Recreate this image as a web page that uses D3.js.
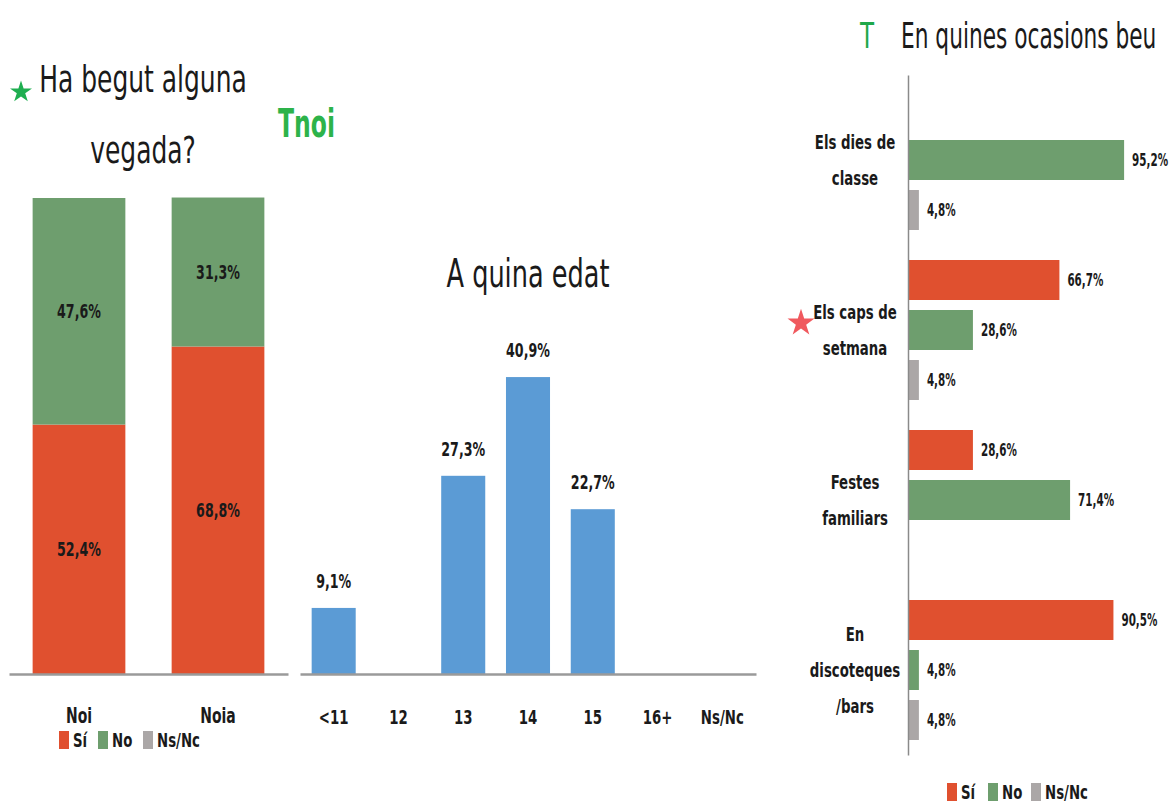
<!DOCTYPE html>
<html>
<head>
<meta charset="utf-8">
<script src="https://cdn.jsdelivr.net/npm/d3@7"></script>
<style>
  html, body { margin: 0; padding: 0; background: #fff; }
  svg { display: block; }
  text { font-family: 'Liberation Sans Narrow', 'Arial Narrow', 'DejaVu Sans Condensed', sans-serif; fill: #1a1a1a; }
</style>
</head>
<body>
<script>
// ---------------- DATA ----------------
const seriesNames = ["Sí", "No", "Ns/Nc"];
const seriesColors = ["#E0502F", "#6E9E6E", "#ABA7A7"];

const genderCats = ["Noi", "Noia"];
const genderSi = [52.4, 68.8];
const genderNo = [47.6, 31.3];

const ageCats = ["<11", "12", "13", "14", "15", "16+", "Ns/Nc"];
const ageValues = [9.1, 0, 27.3, 40.9, 22.7, 0, 0];

const occasionCats = ["Els dies de classe", "Els caps de setmana", "Festes familiars", "En discoteques /bars"];
const occasionLines = [["Els dies de", "classe"], ["Els caps de", "setmana"], ["Festes", "familiars"], ["En", "discoteques", "/bars"]];
const occSi = [0, 66.7, 28.6, 90.5];
const occNo = [95.2, 28.6, 71.4, 4.8];
const occNsNc = [4.8, 4.8, 0, 4.8];

const fmt = v => v.toFixed(1).replace(".", ",") + "%";

// ---------------- SETUP ----------------
const W = 1173, H = 803;
const svg = d3.select("body").append("svg").attr("width", W).attr("height", H);

// horizontal condensing of text (the reference uses a narrow font)
function squeeze(sel, k) {
  sel.each(function () {
    const t = d3.select(this);
    const x = +t.attr("x") || 0;
    const y = +t.attr("y") || 0;
    t.attr("x", 0).attr("y", 0)
     .attr("transform", `translate(${x},${y}) scale(${k},1)`);
  });
}
const K_SMALL = 0.74, K_TITLE = 0.73;

// ================= LEFT: stacked bars =================
const xG = d3.scaleBand().domain(genderCats).range([9, 288]).paddingInner(0.333).paddingOuter(0.17);
const yG = d3.scaleLinear().domain([0, 100]).range([674, 198]);

const gLeft = svg.append("g");
const stackRows = genderCats.map((c, i) => ({ cat: c, "Sí": genderSi[i], "No": genderNo[i] }));
const stacked = d3.stack().keys(["Sí", "No"])(stackRows);

stacked.forEach((layer, li) => {
  gLeft.selectAll(null).data(layer).join("rect")
    .attr("x", d => xG(d.data.cat))
    .attr("width", xG.bandwidth())
    .attr("y", d => yG(d[1]))
    .attr("height", d => yG(d[0]) - yG(d[1]))
    .attr("fill", seriesColors[li]);
  gLeft.selectAll(null).data(layer).join("text").attr("class", "sm")
    .attr("x", d => xG(d.data.cat) + xG.bandwidth() / 2)
    .attr("y", d => (yG(d[0]) + yG(d[1])) / 2)
    .attr("dy", "0.36em")
    .attr("text-anchor", "middle")
    .style("font-size", "19px").style("font-weight", "bold")
    .text(d => fmt(d[1] - d[0]));
});

const axLeft = gLeft.append("g").attr("transform", "translate(0,674)")
  .call(d3.axisBottom(xG).tickSizeInner(0).tickSizeOuter(0).tickPadding(34));
axLeft.select(".domain").attr("stroke", "#9a9a9a").attr("stroke-width", 2.5);
axLeft.selectAll(".tick text").attr("class", "sm").style("font-size", "21px").style("font-weight", "bold")
  .attr("fill", "#1a1a1a").style("font-family", null);

// legend
function legend(g, x0, y0, gaps) {
  let x = x0;
  seriesNames.forEach((s, i) => {
    g.append("rect").attr("x", x).attr("y", y0 - 9).attr("width", 10).attr("height", 18).attr("fill", seriesColors[i]);
    g.append("text").attr("class", "sm").attr("x", x + 14).attr("y", y0).attr("dy", "0.36em")
      .style("font-size", "20px").style("font-weight", "bold").text(s);
    x += gaps[i];
  });
}
legend(gLeft, 59, 740, [39, 45]);

// Titles left
svg.append("path").attr("d", d3.symbol(d3.symbolStar).size(150)()).attr("transform", "translate(21,92)").attr("fill", "#1FAE50");
svg.append("text").attr("class", "ttl").attr("x", 143).attr("y", 92).attr("text-anchor", "middle").style("font-size", "38px").text("Ha begut alguna");
svg.append("text").attr("class", "ttl").attr("x", 143).attr("y", 163).attr("text-anchor", "middle").style("font-size", "38px").text("vegada?");
const tnoi = svg.append("text").attr("x", 278).attr("y", 137).style("font-size", "39px").style("font-weight", "bold").style("fill", "#2DB34A").text("Tnoi");

// ================= MIDDLE: age histogram =================
const xA = d3.scaleBand().domain(ageCats).range([300, 756]).paddingInner(0.32).paddingOuter(0.18);
const yA = d3.scaleLinear().domain([0, 45]).range([674, 674 - 45 * 7.26]);
const gMid = svg.append("g");
const ageData = ageCats.map((c, i) => ({ cat: c, v: ageValues[i] })).filter(d => d.v > 0);
gMid.selectAll("rect").data(ageData).join("rect")
  .attr("x", d => xA(d.cat)).attr("width", xA.bandwidth())
  .attr("y", d => yA(d.v)).attr("height", d => yA(0) - yA(d.v))
  .attr("fill", "#5B9BD5");
gMid.selectAll("text.val").data(ageData).join("text").attr("class", "val sm")
  .attr("x", d => xA(d.cat) + xA.bandwidth() / 2)
  .attr("y", d => yA(d.v) - 20)
  .attr("text-anchor", "middle").style("font-size", "19px").style("font-weight", "bold")
  .text(d => fmt(d.v));
const axMid = gMid.append("g").attr("transform", "translate(0,674)")
  .call(d3.axisBottom(xA).tickSizeInner(0).tickSizeOuter(0).tickPadding(36));
axMid.select(".domain").attr("stroke", "#9a9a9a").attr("stroke-width", 2.5);
axMid.selectAll(".tick text").attr("class", "sm").style("font-size", "20px").style("font-weight", "bold")
  .attr("fill", "#1a1a1a").style("font-family", null);
svg.append("text").attr("class", "ttl").attr("x", 528).attr("y", 287).attr("text-anchor", "middle").style("font-size", "39px").text("A quina edat");

// ================= RIGHT: grouped horizontal bars =================
const yO = d3.scaleBand().domain(occasionCats).range([75, 755]);
const yS = d3.scaleBand().domain(seriesNames).range([0, yO.bandwidth()]).paddingInner(0.2).paddingOuter(0.3);
const xO = d3.scaleLinear().domain([0, 100]).range([908, 1135]);
const gRight = svg.append("g");
const occRows = [];
occasionCats.forEach((c, i) => {
  [occSi[i], occNo[i], occNsNc[i]].forEach((v, j) => occRows.push({ cat: c, s: seriesNames[j], j, v }));
});
const occDraw = occRows.filter(d => d.v > 0);
gRight.selectAll("rect").data(occDraw).join("rect")
  .attr("x", xO(0)).attr("width", d => xO(d.v) - xO(0))
  .attr("y", d => yO(d.cat) + yS(d.s)).attr("height", yS.bandwidth())
  .attr("fill", d => seriesColors[d.j]);
const rVals = gRight.selectAll("text.val").data(occDraw).join("text").attr("class", "val")
  .attr("x", d => xO(d.v) + 8)
  .attr("y", d => yO(d.cat) + yS(d.s) + yS.bandwidth() / 2)
  .attr("dy", "0.36em").style("font-size", "18px").style("font-weight", "bold")
  .text(d => fmt(d.v));
// axis line
const axR = gRight.append("g").attr("transform", `translate(${xO(0)},0)`)
  .call(d3.axisLeft(yO).tickSize(0).tickFormat(""));
axR.select(".domain").attr("stroke", "#8a8a8a").attr("stroke-width", 1.5);
// category labels
occasionCats.forEach((c, i) => {
  const lines = occasionLines[i];
  const cy = yO(c) + yO.bandwidth() / 2;
  lines.forEach((ln, k) => {
    gRight.append("text").attr("class", "sm").attr("text-anchor", "middle")
      .style("font-size", "20px").style("font-weight", "bold")
      .attr("x", 855).attr("y", cy + (k - (lines.length - 1) / 2) * 36).attr("dy", "0.36em").text(ln);
  });
});
svg.append("path").attr("d", d3.symbol(d3.symbolStar).size(226)()).attr("transform", "translate(801,323)").attr("fill", "#F0595E");
legend(gRight, 947, 792, [41, 43]);

const tT = svg.append("text").attr("x", 867).attr("y", 48).attr("text-anchor", "middle").style("font-size", "35px").style("fill", "#1FA84A").text("T");
const tR = svg.append("text").attr("x", 901).attr("y", 48).style("font-size", "35px").text("En quines ocasions beu");

squeeze(svg.selectAll("text.ttl"), K_TITLE);
squeeze(svg.selectAll("text.sm"), K_SMALL);
squeeze(rVals, 0.64);
squeeze(tnoi, 0.67);
squeeze(tR, 0.69);
squeeze(tT, 0.73);
</script>
</body>
</html>
